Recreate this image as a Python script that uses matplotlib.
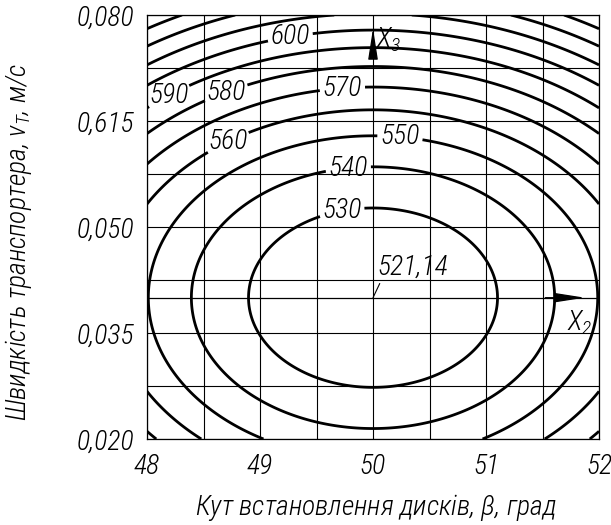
import numpy as np
import matplotlib.pyplot as plt

FONT = ['Roboto Condensed', 'PT Sans Narrow', 'Fira Sans Condensed', 'DejaVu Sans']
plt.rcParams['font.family'] = FONT
plt.rcParams['font.style'] = 'italic'
plt.rcParams['font.weight'] = 'light'
plt.rcParams['axes.labelweight'] = 'light'
plt.rcParams['mathtext.fontset'] = 'custom'
plt.rcParams['mathtext.it'] = 'Roboto Condensed:italic:light'
plt.rcParams['mathtext.rm'] = 'Roboto Condensed:italic:light'

# response surface: minimum and curvatures
y_min = 521.14
center_beta = 50.0
center_v = 0.040
coef_beta = 7.3      # per grad^2
coef_v = 5.5e4       # per (m/s)^2

levels = [530, 540, 550, 560, 570, 580, 590, 600, 610, 620, 630, 640]
labeled = [530, 540, 550, 560, 570, 580, 590, 600]
label_pos = [(49.72, 0.0527), (49.78, 0.0585), (50.24, 0.0630), (48.73, 0.0616),
             (49.73, 0.0694), (48.70, 0.0690), (48.20, 0.0684), (49.27, 0.0767)]

x_ticks = [48, 49, 50, 51, 52]
y_ticks = [0.020, 0.035, 0.050, 0.065, 0.080]
y_tick_labels = ['0,020', '0,035', '0,050', '0,615', '0,080']

beta = np.linspace(48, 52, 400)
v = np.linspace(0.020, 0.080, 400)
B, V = np.meshgrid(beta, v)
Y = y_min + coef_beta * (B - center_beta) ** 2 + coef_v * (V - center_v) ** 2

fig = plt.figure(figsize=(6.11, 5.25), dpi=100)
ax = fig.add_axes([0.2406, 0.1638, 0.7398, 0.8076])

cs = ax.contour(B, V, Y, levels=levels, colors='black', linewidths=2.0)
lbls = ax.clabel(cs, levels=labeled, manual=label_pos, inline=True,
                 inline_spacing=3, fontsize=20, fmt='%d')
for t in lbls:
    t.set_rotation(0)

ax.set_xlim(48, 52)
ax.set_ylim(0.020, 0.080)
ax.set_xticks(x_ticks)
ax.set_xticklabels([str(x) for x in x_ticks])
ax.set_xticks(np.arange(48, 52.01, 0.5), minor=True)
ax.set_yticks(y_ticks)
ax.set_yticklabels(y_tick_labels)
ax.set_yticks(np.arange(0.020, 0.0801, 0.0075), minor=True)
ax.grid(which='both', color='black', linewidth=0.8)
ax.tick_params(which='both', length=0)
ax.tick_params(axis='x', pad=10, labelsize=20)
ax.tick_params(axis='y', pad=9, labelsize=20)
for s in ax.spines.values():
    s.set_linewidth(0.9)

# coded axes X2, X3
ax.axhline(center_v, color='black', linewidth=0.9)
ax.annotate('', xy=(51.9, center_v), xytext=(51.5, center_v),
            arrowprops=dict(arrowstyle='-|>,head_length=1.6,head_width=0.25',
                            color='black', lw=0.9, mutation_scale=12))
ax.text(51.72, 0.0385, '$X_2$', fontsize=20, va='top', ha='left')
ax.annotate('', xy=(50, 0.0785), xytext=(50, 0.074),
            arrowprops=dict(arrowstyle='-|>,head_length=1.6,head_width=0.25',
                            color='black', lw=0.9, mutation_scale=12))
ax.text(50.03, 0.0765, '$X_3$', fontsize=20, va='center', ha='left')

ax.annotate('521,14', xy=(center_beta, center_v), xytext=(50.04, 0.0424),
            fontsize=20, ha='left', va='bottom',
            arrowprops=dict(arrowstyle='-', lw=0.8, color='black',
                            relpos=(0.05, 0.0), shrinkA=0, shrinkB=0))

ax.set_xlabel('Кут встановлення дисків, $\\beta$, град', fontsize=20)
ax.set_ylabel('Швидкість транспортера, $v_T$, м/с', fontsize=20)
ax.xaxis.set_label_coords(0.507, -0.125)
ax.yaxis.set_label_coords(-0.25, 0.465)

fig.savefig('out.png', dpi=100)
